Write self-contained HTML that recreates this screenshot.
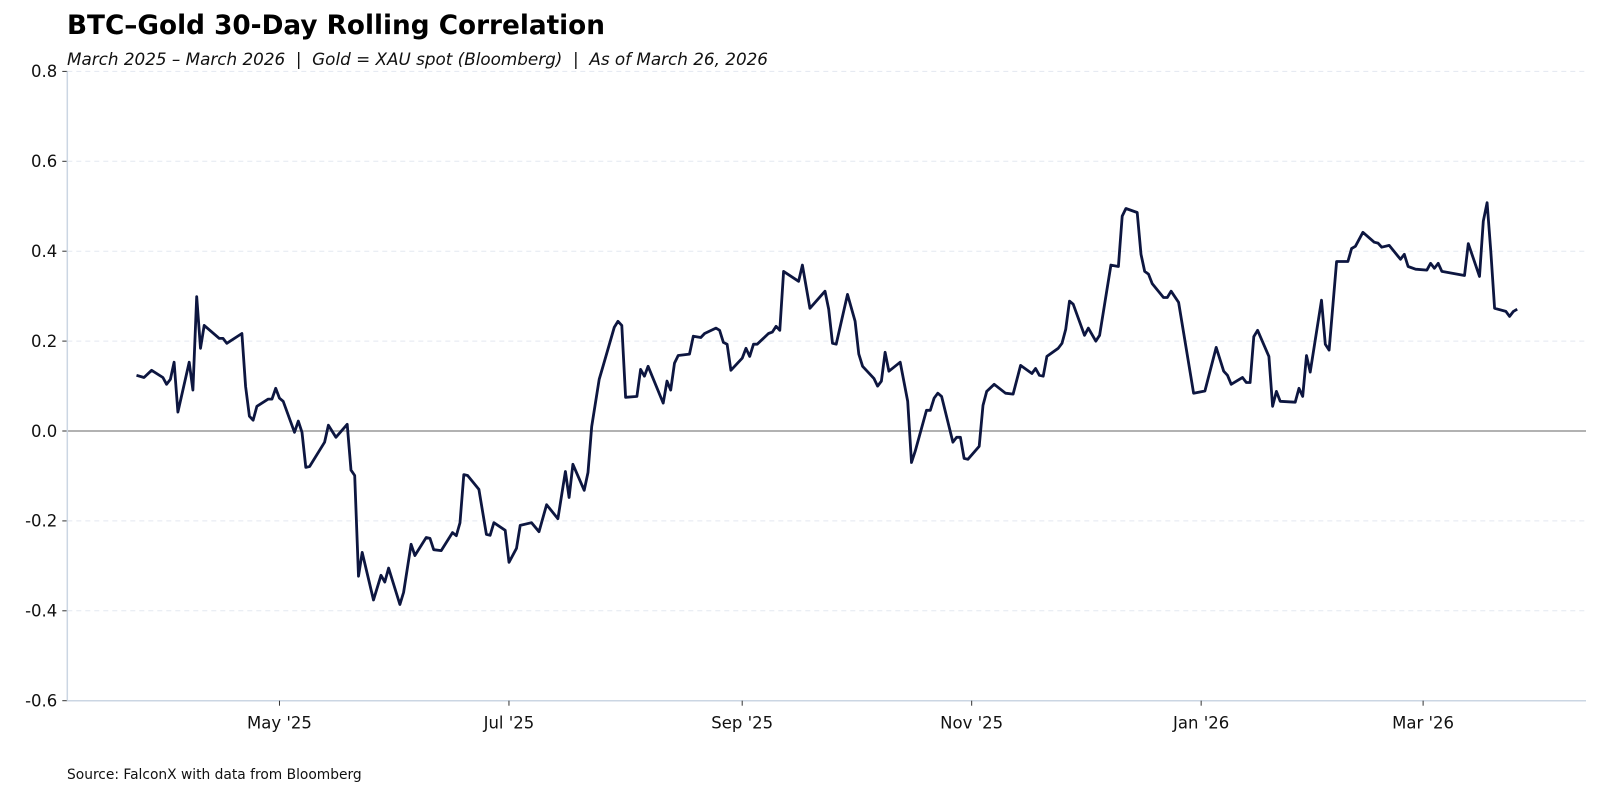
<!DOCTYPE html>
<html><head><meta charset="utf-8">
<style>
html,body{margin:0;padding:0;background:#fff;}
body{width:1600px;height:794px;overflow:hidden;font-family:"Liberation Sans","DejaVu Sans",sans-serif;}
svg text{font-family:"DejaVu Sans","Liberation Sans",sans-serif;white-space:pre;}
</style></head>
<body>
<svg id="chart" width="1600" height="794" viewBox="0 0 1600 794" xmlns="http://www.w3.org/2000/svg">
<text x="67" y="34" font-size="26.3" font-weight="bold" fill="#000">BTC–Gold 30-Day Rolling Correlation</text>
<text x="67" y="65" font-size="16.8" font-style="italic" fill="#111" xml:space="preserve">March 2025 – March 2026  |  Gold = XAU spot (Bloomberg)  |  As of March 26, 2026</text>
<text x="67" y="779" font-size="13.8" fill="#111">Source: FalconX with data from Bloomberg</text>
<g id="grid"></g>
<g id="axes"></g>
<g id="series"></g>
</svg>
<script>
// days since 2025-03-01
const dayIndex = [23,25,27,30,31,32,33,34,37,38,39,40,41,45,46,47,51,52,53,54,55,58,59,60,61,62,65,66,67,68,69,73,74,76,79,80,81,82,83,86,88,89,90,93,94,96,97,100,101,102,104,107,108,109,110,111,114,116,117,118,121,122,124,125,128,130,132,135,137,138,139,142,143,144,146,147,150,151,152,153,156,157,158,159,163,164,165,166,167,170,171,173,174,177,178,179,180,181,184,185,186,187,188,191,192,193,194,195,199,200,202,206,207,208,209,212,214,215,216,219,220,221,222,223,226,228,229,230,233,234,235,236,237,240,241,242,243,244,247,248,249,251,254,256,258,261,262,263,264,265,268,269,270,271,272,275,276,278,279,282,284,285,286,289,290,291,292,293,296,297,298,300,304,307,310,312,313,314,317,318,319,320,321,324,325,326,327,331,332,333,334,335,338,339,340,342,345,346,347,349,352,353,354,356,359,360,361,363,366,367,368,369,370,374,376,377,380,381,382,383,384,387,388,389,390];
const correlation = [0.124,0.119,0.135,0.119,0.104,0.115,0.153,0.042,0.153,0.091,0.299,0.184,0.235,0.206,0.206,0.195,0.217,0.099,0.033,0.024,0.055,0.071,0.071,0.095,0.073,0.066,-0.003,0.022,-0.003,-0.081,-0.079,-0.025,0.013,-0.014,0.015,-0.087,-0.099,-0.323,-0.270,-0.376,-0.321,-0.336,-0.305,-0.386,-0.359,-0.252,-0.277,-0.237,-0.239,-0.264,-0.266,-0.226,-0.233,-0.204,-0.097,-0.099,-0.130,-0.230,-0.232,-0.204,-0.221,-0.292,-0.261,-0.210,-0.204,-0.224,-0.164,-0.195,-0.090,-0.148,-0.074,-0.132,-0.092,0.010,0.115,0.144,0.231,0.244,0.235,0.075,0.077,0.137,0.122,0.144,0.062,0.111,0.091,0.151,0.168,0.171,0.211,0.208,0.217,0.229,0.224,0.197,0.193,0.135,0.162,0.184,0.166,0.193,0.193,0.217,0.220,0.233,0.224,0.355,0.333,0.369,0.273,0.311,0.271,0.195,0.193,0.304,0.244,0.171,0.144,0.117,0.100,0.111,0.175,0.133,0.153,0.066,-0.070,-0.045,0.046,0.046,0.073,0.084,0.077,-0.025,-0.014,-0.014,-0.061,-0.063,-0.034,0.057,0.088,0.104,0.084,0.082,0.146,0.128,0.139,0.124,0.122,0.166,0.184,0.195,0.226,0.289,0.282,0.213,0.229,0.200,0.213,0.369,0.366,0.478,0.495,0.486,0.393,0.355,0.349,0.328,0.297,0.297,0.311,0.286,0.084,0.089,0.186,0.133,0.124,0.104,0.119,0.108,0.108,0.210,0.224,0.166,0.055,0.088,0.066,0.064,0.095,0.077,0.168,0.131,0.291,0.193,0.180,0.377,0.377,0.406,0.411,0.442,0.420,0.418,0.409,0.413,0.382,0.393,0.366,0.360,0.358,0.373,0.362,0.373,0.355,0.349,0.346,0.417,0.344,0.467,0.508,0.400,0.273,0.266,0.255,0.266,0.271];
const xTickDays = [61,122,184,245,306,365];
const xTickLabels = ["May '25","Jul '25","Sep '25","Nov '25","Jan '26","Mar '26"];
const yTicks = [-0.6,-0.4,-0.2,0.0,0.2,0.4,0.6,0.8];

const L=67.3,R=1586,T=71.4,B=700.7;
const dMin=4.6,dMax=408.3,yMin=-0.6,yMax=0.8;
const xs=d=>L+(d-dMin)/(dMax-dMin)*(R-L);
const ys=v=>B-(v-yMin)/(yMax-yMin)*(B-T);
const NS="http://www.w3.org/2000/svg";
function mk(tag,parent){const e=document.createElementNS(NS,tag);parent.appendChild(e);return e;}
const grid=document.getElementById('grid'),axes=document.getElementById('axes'),series=document.getElementById('series');

yTicks.forEach(v=>{
  const y=ys(v);
  if(Math.abs(v)>1e-9 && v>yMin){
    const g=mk('line',grid);
    
    
    g.setAttribute('x1',L);g.setAttribute('x2',R);g.setAttribute('y1',y);g.setAttribute('y2',y);
    g.setAttribute('stroke','#e3e8f0');g.setAttribute('stroke-width','1');g.setAttribute('stroke-dasharray','5,4');
  }
  const tk=mk('line',axes);
  
  
  tk.setAttribute('x1',L-5);tk.setAttribute('x2',L);tk.setAttribute('y1',y);tk.setAttribute('y2',y);tk.setAttribute('stroke','#333');
  const t=mk('text',axes);
  
  
  t.setAttribute('x',L-10);t.setAttribute('y',y+5.8);t.setAttribute('text-anchor','end');t.setAttribute('font-size','16.5');t.setAttribute('fill','#111');
  t.textContent=v.toFixed(1);
});
const zero=mk('line',axes);


zero.setAttribute('x1',L);zero.setAttribute('x2',R);zero.setAttribute('y1',ys(0));zero.setAttribute('y2',ys(0));zero.setAttribute('stroke','#999');zero.setAttribute('stroke-width','1.5');

const ls=mk('line',axes);


ls.setAttribute('x1',L);ls.setAttribute('x2',L);ls.setAttribute('y1',T);ls.setAttribute('y2',B);ls.setAttribute('stroke','#cbd6e3');ls.setAttribute('stroke-width','1.5');
const bs=mk('line',axes);


bs.setAttribute('x1',L);bs.setAttribute('x2',R);bs.setAttribute('y1',B);bs.setAttribute('y2',B);bs.setAttribute('stroke','#cbd6e3');bs.setAttribute('stroke-width','1.5');

xTickDays.forEach((d,i)=>{
  const x=xs(d);
  const tk=mk('line',axes);
  
  
  tk.setAttribute('x1',x);tk.setAttribute('x2',x);tk.setAttribute('y1',B);tk.setAttribute('y2',B+5);tk.setAttribute('stroke','#333');
  const t=mk('text',axes);
  
  
  t.setAttribute('x',x);t.setAttribute('y',B+28);t.setAttribute('text-anchor','middle');t.setAttribute('font-size','16.5');t.setAttribute('fill','#111');
  t.textContent=xTickLabels[i];
});

const p=mk('path',series);


p.setAttribute('d',dayIndex.map((d,i)=>(i?'L':'M')+xs(d).toFixed(1)+','+ys(correlation[i]).toFixed(1)).join(''));
p.setAttribute('fill','none');p.setAttribute('stroke','#0d1640');p.setAttribute('stroke-width','2.8');p.setAttribute('stroke-linejoin','round');
</script>
</body></html>
